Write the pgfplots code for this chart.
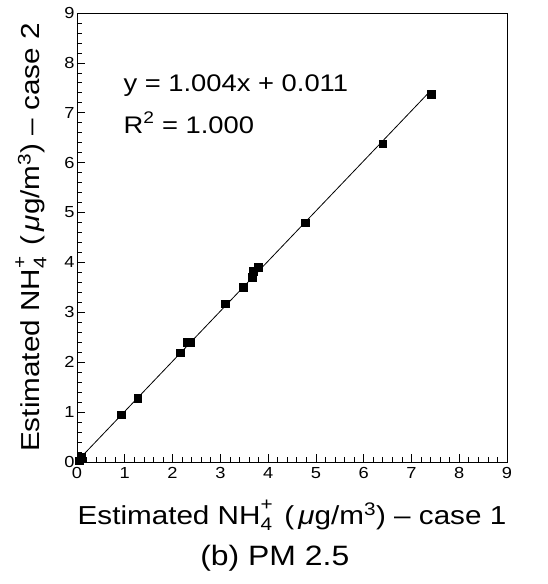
\documentclass[border=0pt]{standalone}
\usepackage{pgfplots}
\pgfplotsset{compat=1.18}
\usepackage{fontspec}
\setmainfont{Liberation Sans}[FakeStretch=1.14]
\newcommand\nhf{NH\rlap{\raisebox{0.35ex}{\textsuperscript{+}}}\raisebox{-0.2ex}{\textsubscript{4}}\hspace{0.45em}}

\begin{document}
\begin{tikzpicture}
\useasboundingbox (-77pt,-122pt) rectangle (471pt,462pt);
\begin{axis}[
  scale only axis,
  width=430pt, height=449pt,
  xmin=0, xmax=9, ymin=0, ymax=9,
  xtick={0,...,9}, ytick={0,...,9},
  minor tick num=4,
  tick align=inside,
  xtick pos=left, ytick pos=left,
  major tick length=8pt, minor tick length=5pt,
  axis line style={line width=0.9pt},
  tick style={line width=0.7pt, black},
  tick label style={font=\fontsize{16}{16}\selectfont},
  /pgf/number format/assume math mode=true,
  xticklabel style={yshift=-2pt},
  yticklabel style={xshift=1pt},
  xlabel={Estimated \nhf(\,\textit{μ}g/m\textsuperscript{3}) – case 1},
  ylabel={Estimated \nhf(\,\textit{μ}g/m\textsuperscript{3}) – case 2},
  label style={font=\fontsize{26}{26}\selectfont},
  xlabel style={yshift=-14pt},
  ylabel style={yshift=11pt},
  clip=false,
]
% regression line y = 1.004x + 0.011
\addplot[black, line width=0.8pt] coordinates {(0,0.011) (7.4,7.441)};
% data points
\addplot[only marks, mark=square*, mark size=3.8pt, black] coordinates {
  (0.04,0.03) (0.1,0.1)
  (0.92,0.95) (1.27,1.28)
  (2.16,2.19) (2.3,2.4) (2.38,2.4)
  (3.1,3.17)
  (3.48,3.5) (3.67,3.71) (3.69,3.82) (3.79,3.9)
  (4.78,4.8) (6.4,6.38) (7.41,7.37)
};
\node[anchor=west, font=\fontsize{24}{24}\selectfont] at (axis cs:0.9,7.55) {y = 1.004x + 0.011};
\node[anchor=west, font=\fontsize{24}{24}\selectfont] at (axis cs:0.9,6.8) {R\textsuperscript{2} = 1.000};
\node[font=\fontsize{28}{28}\selectfont] at ([yshift=-96pt]rel axis cs:0.46,0) {(b) PM 2.5};
\end{axis}
\end{tikzpicture}
\end{document}
